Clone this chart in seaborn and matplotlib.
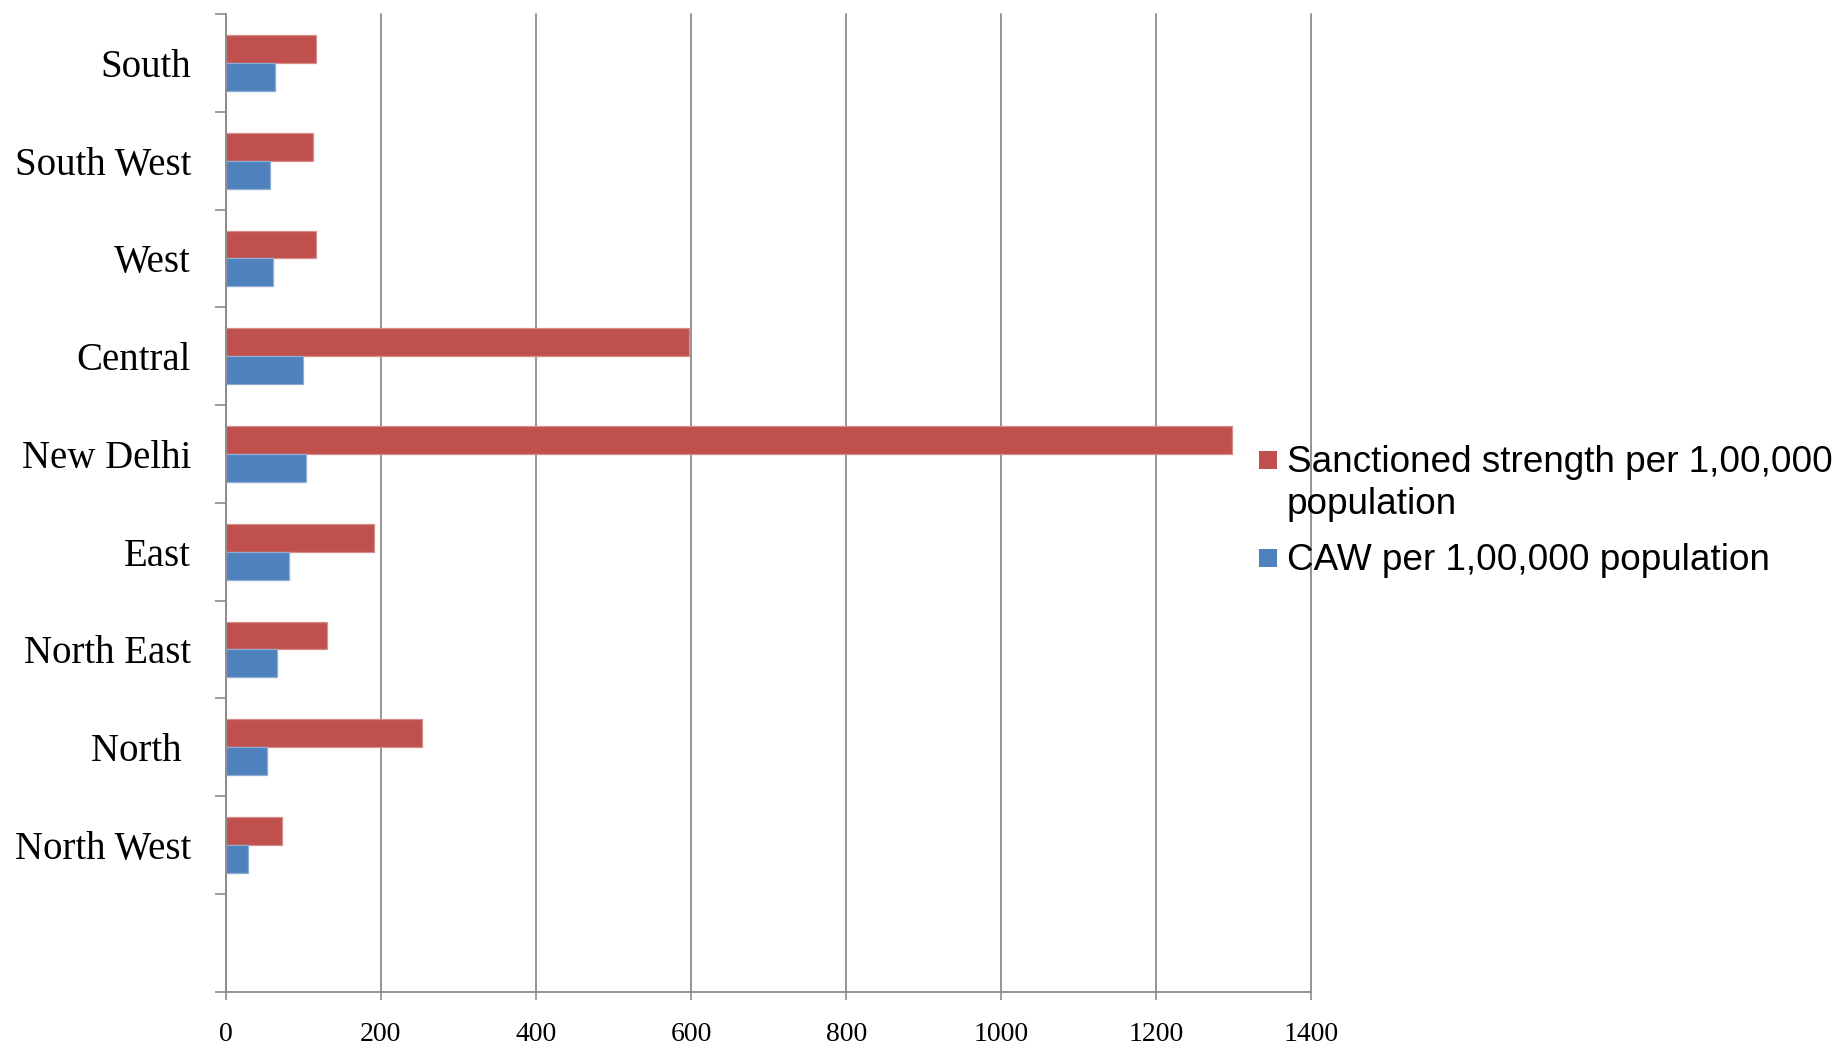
import numpy as np
import pandas as pd
import matplotlib
matplotlib.use("Agg")
import matplotlib.pyplot as plt
import matplotlib.colors as mcolors
import seaborn as sns
from matplotlib.patches import Patch, Rectangle
from matplotlib.legend_handler import HandlerPatch
from matplotlib.ticker import FixedLocator

# Police zones of Delhi, listed top to bottom
zones = ["South", "South West", "West", "Central", "New Delhi",
         "East", "North East", "North ", "North West"]
sanctioned = [117, 113, 116, 597, 1298, 191, 131, 253, 73]
caw = [64, 57, 61, 100, 104, 81, 66, 53, 29]
series_names = ["Sanctioned strength per 1,00,000\npopulation",
                "CAW per 1,00,000 population"]
series_colors = ["#C0504D", "#4F81BD"]
x_ticks = [0, 200, 400, 600, 800, 1000, 1200, 1400]

df = pd.DataFrame({
    "zone": zones * 2,
    "value": sanctioned + caw,
    "series": [series_names[0]] * len(zones) + [series_names[1]] * len(zones),
})

sns.set_theme(style="white")
plt.rcParams["font.family"] = ["Liberation Serif", "DejaVu Serif"]
plt.rcParams["text.color"] = "black"

GRID = "#8C8C8C"

fig = plt.figure(figsize=(18.44, 10.44), dpi=100)
ax = fig.add_axes([0.1224, 0.0501, 0.5888, 0.9365])

sns.barplot(data=df, y="zone", x="value", hue="series",
            order=zones, hue_order=series_names, palette=series_colors,
            orient="h", width=0.57, saturation=1, errorbar=None,
            legend=False, ax=ax)

# thin lighter outline around each bar
for p in ax.patches:
    fc = np.array(mcolors.to_rgb(p.get_facecolor()))
    p.set_edgecolor(tuple(fc + (1 - fc) * 0.35))
    p.set_linewidth(0.9)

# one empty category slot below the last zone
ax.set_ylim(len(zones) + 0.5, -0.5)
ax.set_xlim(0, 1400)
ax.set_xticks(x_ticks)
ax.set_xticklabels([str(t) for t in x_ticks])
ax.set_xlabel("")
ax.set_ylabel("")

ax.yaxis.set_minor_locator(FixedLocator(np.arange(-0.5, len(zones) + 1, 1.0)))
ax.tick_params(axis="y", which="major", length=0, pad=25, labelsize=28,
               labelcolor="black")
ax.tick_params(axis="y", which="minor", left=True, length=8, width=1.2,
               color=GRID, direction="out")
ax.tick_params(axis="x", which="major", bottom=True, length=5.5, width=1.2,
               color=GRID, direction="out", pad=16, labelsize=20,
               labelcolor="black")

ax.xaxis.grid(True, color=GRID, linewidth=1.3)
ax.yaxis.grid(False)
ax.set_axisbelow(True)
for line in ax.get_xgridlines():
    line.set_clip_on(False)

for side in ["top", "right"]:
    ax.spines[side].set_visible(False)
for side in ["left", "bottom"]:
    ax.spines[side].set_color(GRID)
    ax.spines[side].set_linewidth(1.3)


def square_marker(legend, orig_handle, xdescent, ydescent, width, height, fontsize):
    side = 0.49 * fontsize
    top = height - ydescent
    return Rectangle((-xdescent, top - 0.17 * fontsize - side), side, side)


handles = [Patch(facecolor=c, edgecolor="none") for c in series_colors]
leg = fig.legend(handles, series_names, loc="upper left",
                 bbox_to_anchor=(0.6829, 0.5738), frameon=False,
                 prop={"family": "Liberation Sans", "size": 26.6},
                 handlelength=0.52, handleheight=0.5, handletextpad=0.22,
                 labelspacing=0.55, borderpad=0, borderaxespad=0,
                 handler_map={Patch: HandlerPatch(patch_func=square_marker)})
for text in leg.get_texts():
    text.set_color("black")
    text.set_linespacing(1.27)
try:
    for column in leg._legend_handle_box.get_children():
        for item in column.get_children():
            item.align = "top"
except AttributeError:
    pass

fig.savefig("out.png", dpi=100)
